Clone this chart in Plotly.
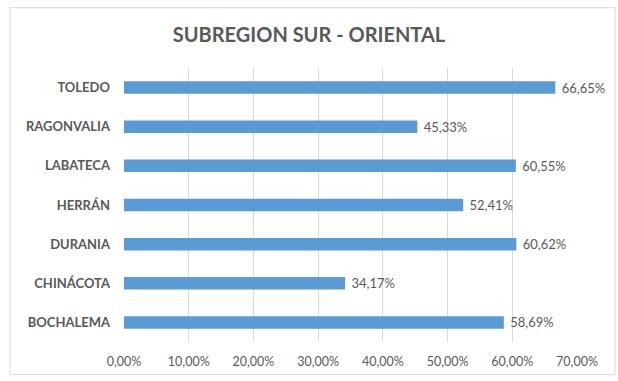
import plotly.graph_objects as go

# Municipalities of the Sur-Oriental subregion and their percentages
municipios = ["TOLEDO", "RAGONVALIA", "LABATECA", "HERRÁN", "DURANIA", "CHINÁCOTA", "BOCHALEMA"]
porcentajes = [66.65, 45.33, 60.55, 52.41, 60.62, 34.17, 58.69]
ticks = [0, 10, 20, 30, 40, 50, 60, 70]

valores = [p / 100 for p in porcentajes]
tick_vals = [t / 100 for t in ticks]

GRIS = "#595959"
FUENTE = "Lato, Carlito, Calibri, sans-serif"

fig = go.Figure(
    go.Bar(
        x=valores,
        y=municipios,
        orientation="h",
        marker=dict(color="#5B9BD5", line=dict(width=0)),
        width=0.32,
        texttemplate=" %{x:.2%}",
        textposition="outside",
        constraintext="none",
        textfont=dict(color=GRIS, size=13, family=FUENTE),
        cliponaxis=False,
    )
)

fig.update_layout(
    width=618,
    height=381,
    separators=",.",
    paper_bgcolor="white",
    plot_bgcolor="white",
    margin=dict(l=124, r=41, t=68, b=36),
    showlegend=False,
    title=dict(
        text="<b>SUBREGION SUR - ORIENTAL</b>",
        x=0.5,
        xanchor="center",
        y=0.907,
        yanchor="middle",
        font=dict(size=20, color=GRIS, family=FUENTE),
    ),
    font=dict(family=FUENTE, color=GRIS, size=12),
    xaxis=dict(
        range=[0, 0.7],
        tickvals=tick_vals,
        tickformat=".2%",
        showgrid=True,
        gridcolor="#D9D9D9",
        gridwidth=1,
        zeroline=False,
        showline=False,
        ticks="",
        ticklabelstandoff=10,
        tickfont=dict(size=12.5, color=GRIS),
    ),
    yaxis=dict(
        autorange="reversed",
        showgrid=False,
        showline=False,
        ticks="",
        ticklabelstandoff=13,
        tickfont=dict(size=13, color=GRIS),
        tickprefix="<b>",
        ticksuffix="</b>",
    ),
    shapes=[
        dict(
            type="rect",
            xref="paper",
            yref="paper",
            x0=-0.2517,
            x1=1.084,
            y0=-0.119,
            y1=1.220,
            line=dict(color="#D9D9D9", width=1),
            fillcolor="rgba(0,0,0,0)",
            layer="below",
        )
    ],
)

fig.write_html("out.html")
